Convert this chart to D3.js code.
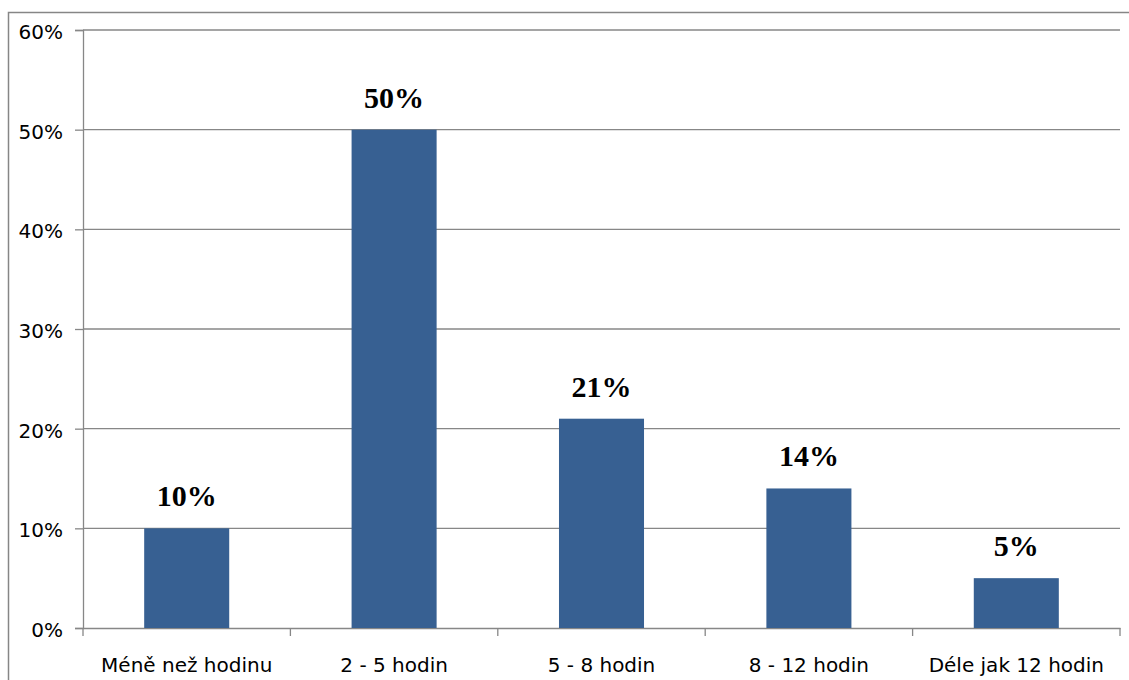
<!DOCTYPE html>
<html><head><meta charset="utf-8">
<script src="https://cdn.jsdelivr.net/npm/d3@7"></script>
<style>body{margin:0;background:#fff}svg{display:block}</style>
</head><body>
<script>
const categories = ["Méně než hodinu", "2 - 5 hodin", "5 - 8 hodin", "8 - 12 hodin", "Déle jak 12 hodin"];
const values = [0.10, 0.50, 0.21, 0.14, 0.05];
const valueLabels = ["10%", "50%", "21%", "14%", "5%"];
const yTicks = [0, 0.1, 0.2, 0.3, 0.4, 0.5, 0.6];

(function () {
const W = 1129, H = 680;
const svg = d3.select("body").append("svg").attr("width", W).attr("height", H);

// outer frame
svg.append("rect").attr("x", 8.5).attr("y", 12.5).attr("width", W + 20).attr("height", H + 20)
  .attr("fill", "none").attr("stroke", "#868686").attr("stroke-width", 1.5);

const mLeft = 83, mRight = 1120, mTop = 30, mBottom = 628;
const x = d3.scaleBand().domain(categories).range([mLeft, mRight]).padding(0);
const y = d3.scaleLinear().domain([0, 0.6]).range([mBottom, mTop]);

const grid = "#878787";
// gridlines
svg.append("g").selectAll("line").data(yTicks.filter(d => d > 0)).join("line")
  .attr("x1", mLeft).attr("x2", mRight).attr("y1", d => y(d)).attr("y2", d => y(d))
  .attr("stroke", grid).attr("stroke-width", 1.3);

// y axis
const yAxis = svg.append("g").attr("transform", `translate(${mLeft},0)`)
  .call(d3.axisLeft(y).tickValues(yTicks).tickFormat(d3.format(".0%")).tickSize(8).tickPadding(12));
yAxis.select(".domain").attr("stroke", grid).attr("stroke-width", 1.3);
yAxis.selectAll(".tick line").attr("stroke", grid).attr("stroke-width", 1.3);
yAxis.selectAll("text").attr("font-family", "DejaVu Sans").attr("font-size", 20).attr("fill", "#000").attr("dy", "0.42em");

// x axis
const xAxis = svg.append("g").attr("transform", `translate(0,${mBottom})`)
  .call(d3.axisBottom(x).tickSize(0).tickPadding(30));
xAxis.select(".domain").attr("stroke", grid).attr("stroke-width", 1.3);
xAxis.selectAll("text").attr("font-family", "DejaVu Sans").attr("font-size", 20).attr("fill", "#000");
// boundary ticks
const bounds = categories.map(c => x(c)).concat([mRight]);
svg.append("g").selectAll("line").data(bounds).join("line")
  .attr("x1", d => d).attr("x2", d => d).attr("y1", mBottom).attr("y2", mBottom + 8)
  .attr("stroke", grid).attr("stroke-width", 1.3);

// bars
const bw = x.bandwidth() * 0.41;
svg.append("g").selectAll("rect").data(values).join("rect")
  .attr("x", (d, i) => x(categories[i]) + (x.bandwidth() - bw) / 2)
  .attr("width", bw)
  .attr("y", d => y(d)).attr("height", d => y(0) - y(d))
  .attr("fill", "#376092");

// value labels
svg.append("g").selectAll("text").data(values).join("text")
  .attr("x", (d, i) => x(categories[i]) + x.bandwidth() / 2)
  .attr("y", d => y(d) - 22)
  .attr("text-anchor", "middle")
  .attr("font-family", "Liberation Serif").attr("font-weight", "bold").attr("font-size", 30)
  .text((d, i) => valueLabels[i]);
})();
</script>
</body></html>
